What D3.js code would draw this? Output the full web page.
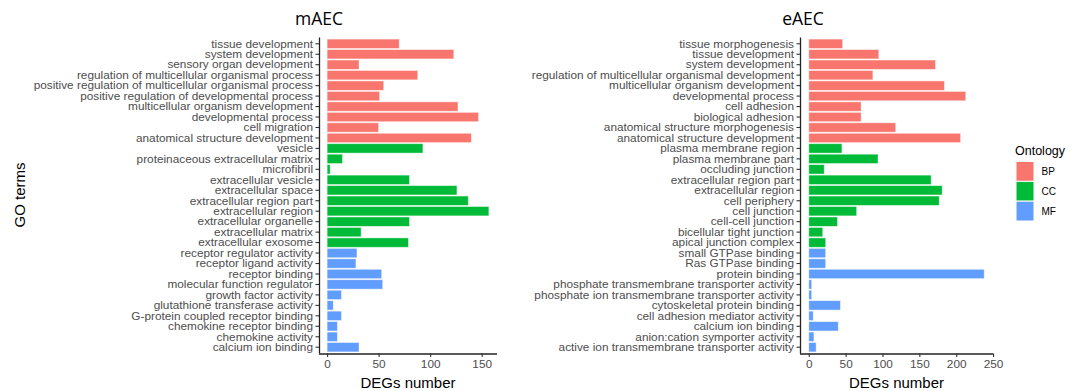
<!DOCTYPE html>
<html><head><meta charset="utf-8">
<script src="https://cdn.jsdelivr.net/npm/d3@7"></script>
<style>body{margin:0;background:#fff}</style></head>
<body><svg id="c" width="1077" height="391"></svg>
<script>
const ontologies = ["BP","CC","MF"];
const ontColors = ["#F8766D","#00BA38","#619CFF"];

const mTerms = ["tissue development","system development","sensory organ development","regulation of multicellular organismal process","positive regulation of multicellular organismal process","positive regulation of developmental process","multicellular organism development","developmental process","cell migration","anatomical structure development",
"vesicle","proteinaceous extracellular matrix","microfibril","extracellular vesicle","extracellular space","extracellular region part","extracellular region","extracellular organelle","extracellular matrix","extracellular exosome",
"receptor regulator activity","receptor ligand activity","receptor binding","molecular function regulator","growth factor activity","glutathione transferase activity","G-protein coupled receptor binding","chemokine receptor binding","chemokine activity","calcium ion binding"];
const mValues = [70,123,31,88,55,51,127,147,50,140, 93,15,3,80,126,137,157,80,33,79, 29,28,53,54,14,6,14,10,10,31];
const mOnt = ["BP","BP","BP","BP","BP","BP","BP","BP","BP","BP","CC","CC","CC","CC","CC","CC","CC","CC","CC","CC","MF","MF","MF","MF","MF","MF","MF","MF","MF","MF"];
const mTicks = [0,50,100,150];

const eTerms = ["tissue morphogenesis","tissue development","system development","regulation of multicellular organismal development","multicellular organism development","developmental process","cell adhesion","biological adhesion","anatomical structure morphogenesis","anatomical structure development",
"plasma membrane region","plasma membrane part","occluding junction","extracellular region part","extracellular region","cell periphery","cell junction","cell-cell junction","bicellular tight junction","apical junction complex",
"small GTPase binding","Ras GTPase binding","protein binding","phosphate transmembrane transporter activity","phosphate ion transmembrane transporter activity","cytoskeletal protein binding","cell adhesion mediator activity","calcium ion binding","anion:cation symporter activity","active ion transmembrane transporter activity"];
const eValues = [46,95,172,87,184,213,71,71,118,206, 45,94,21,166,181,177,65,39,19,23, 23,23,238,4,4,43,6,40,7,10];
const eOnt = mOnt.slice();
const eTicks = [0,50,100,150,200,250];

const svg = d3.select("#c");
const color = d3.scaleOrdinal().domain(ontologies).range(ontColors);
const labelFont = "'Liberation Sans', Arial, sans-serif";

function panel(terms, values, onts, ticks, x0, x1, title, titleX) {
  const y0 = 37.5, y1 = 353.5;
  const max = d3.max(values);
  const x = d3.scaleLinear().domain([-0.05*max, 1.05*max]).range([x0, x1]);
  const y = d3.scaleBand().domain(terms).range([y0, y1]).paddingInner(0.1).paddingOuter(0.15);
  const g = svg.append("g");
  g.selectAll("rect.bar").data(terms).enter().append("rect")
    .attr("class","bar")
    .attr("x", x(0))
    .attr("y", d => y(d))
    .attr("width", (d,i) => x(values[i]) - x(0))
    .attr("height", y.bandwidth())
    .attr("fill", (d,i) => color(onts[i]))
    .attr("stroke", "#fff").attr("stroke-opacity", 0.6).attr("stroke-width", 0.8);

  const ya = g.append("g").attr("transform", `translate(${x0},0)`)
    .call(d3.axisLeft(y).tickSize(3.5).tickSizeOuter(0).tickPadding(2.5));
  ya.select(".domain").attr("stroke","#222").attr("stroke-width",1.3).attr("d", `M0.5,${y0}V${y1}`);
  ya.selectAll(".tick line").attr("stroke","#333").attr("stroke-width",1.1);
  ya.selectAll(".tick text").attr("fill","#4D4D4D").style("font-family", labelFont).style("font-size","11.8px");

  const xa = g.append("g").attr("transform", `translate(0,${y1})`)
    .call(d3.axisBottom(x).tickValues(ticks).tickSize(3.5).tickSizeOuter(0).tickPadding(2.5));
  xa.select(".domain").attr("stroke","#222").attr("stroke-width",1.3).attr("d", `M${x0},0.5H${x1}`);
  xa.selectAll(".tick line").attr("stroke","#333").attr("stroke-width",1.1);
  xa.selectAll(".tick text").attr("fill","#4D4D4D").style("font-family", labelFont).style("font-size","11.8px");

  g.append("text").attr("x", (x0+x1)/2).attr("y", 388).attr("text-anchor","middle")
    .style("font-family", labelFont).style("font-size","15px").attr("fill","#000").text("DEGs number");

  g.append("text").attr("x", titleX).attr("y", 25).attr("text-anchor","middle")
    .style("font-family","'Open Sans', 'Noto Sans', sans-serif").style("font-size","17.5px").attr("fill","#000").text(title);
}

panel(mTerms, mValues, mOnt, mTicks, 319, 497, "mAEC", 319);
panel(eTerms, eValues, eOnt, eTicks, 800, 993, "eAEC", 803);

svg.append("text").attr("transform","translate(25,195) rotate(-90)").attr("text-anchor","middle")
  .style("font-family", labelFont).style("font-size","15px").attr("fill","#000").text("GO terms");

const lg = svg.append("g");
lg.append("text").attr("x",1015).attr("y",154.5).style("font-family",labelFont).style("font-size","12.5px").attr("fill","#000").text("Ontology");
const keyY = d3.scaleBand().domain(ontologies).range([161.5, 221]);
lg.selectAll("rect").data(ontologies).enter().append("rect")
  .attr("x",1016).attr("y", d => keyY(d)).attr("width",18).attr("height",keyY.bandwidth())
  .attr("fill", d => color(d)).attr("stroke","#fff").attr("stroke-width",1);
lg.selectAll("text.k").data(ontologies).enter().append("text").attr("class","k")
  .attr("x",1041.5).attr("y", d => keyY(d) + keyY.bandwidth()/2 + 3.5)
  .style("font-family",labelFont).style("font-size","10px").attr("fill","#000").text(d => d);
</script></body></html>
